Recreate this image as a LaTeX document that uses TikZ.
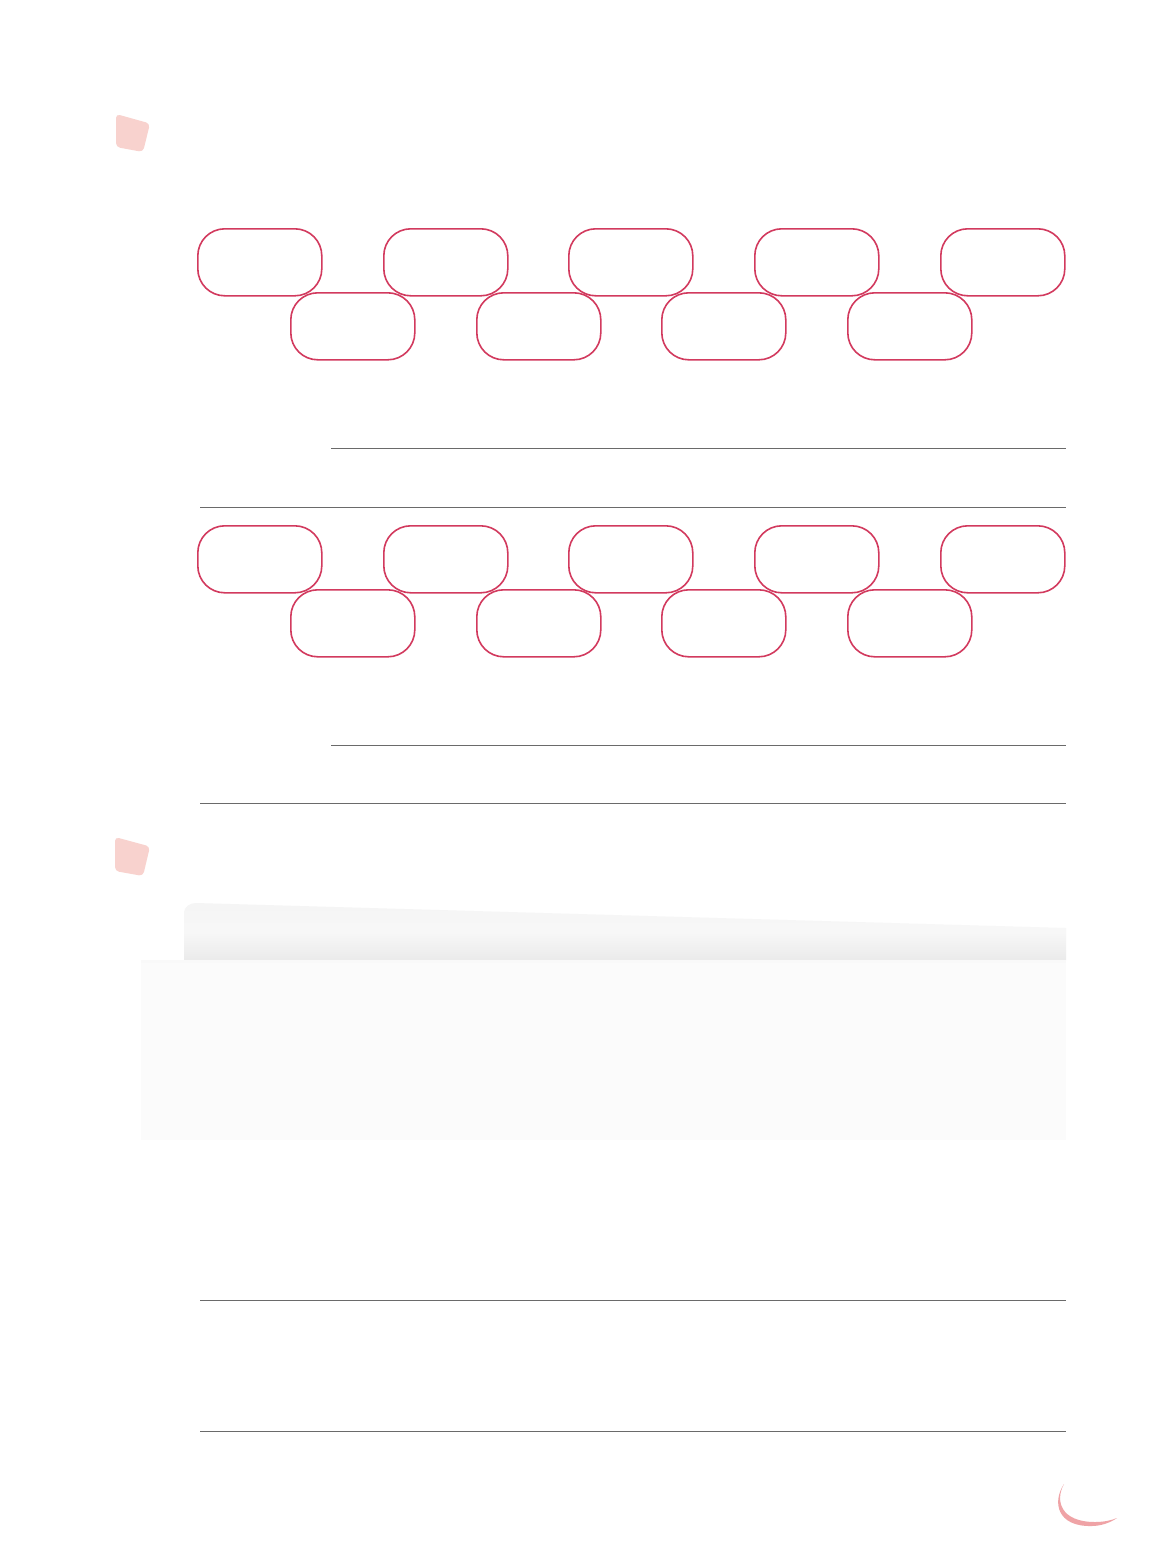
\documentclass[tikz,border=0pt]{standalone}
\usetikzlibrary{positioning}
\definecolor{boxred}{HTML}{D23A5E}
\definecolor{rulegray}{HTML}{6A6A6A}
\definecolor{markpink}{HTML}{F8D2CE}
\definecolor{arcpink}{HTML}{EFA3A6}
\tikzset{
  pill/.style={draw=boxred, line width=1.6pt, rounded corners=27pt, minimum width=124pt, minimum height=67pt, anchor=north west, inner sep=0pt},
  hrule/.style={draw=rulegray, line width=1pt},
  marker/.style={fill=markpink, draw=none, rounded corners=4pt}
}
\begin{document}
\begin{tikzpicture}[x=1pt,y=-1pt]
\useasboundingbox[fill=white] (0,0) rectangle (1168,1567);
% markers
\fill[marker] (116,114) -- (150,123.5) -- (143,152) -- (116,147) -- cycle;
\fill[marker] (115,837) -- (150,846.5) -- (143,876) -- (115,871) -- cycle;
% group 1
\foreach \i/\x in {1/197,2/383,3/568,4/754,5/940}{
  \node[pill] (a\i) at (\x,228) {};
}
\foreach \i/\x in {1/290,2/476,3/661,4/847}{
  \node[pill] (b\i) at (\x,292) {};
}
\draw[hrule] (331,448) -- (1066,448);
\draw[hrule] (200,507) -- (1066,507);
% group 2
\foreach \i/\x in {1/197,2/383,3/568,4/754,5/940}{
  \node[pill] (c\i) at (\x,525) {};
}
\foreach \i/\x in {1/290,2/476,3/661,4/847}{
  \node[pill] (d\i) at (\x,589) {};
}
\draw[hrule] (331,745) -- (1066,745);
\draw[hrule] (200,803) -- (1066,803);
% shaded panel
\shade[top color=white!96!black, bottom color=white!92!black, middle color=white!97!black]
  (184,960) -- (184,913) to[out=90,in=180] (196,903) -- (1066,928) -- (1066,960) -- cycle;
\fill[white!98.6!black] (141,960) rectangle (1066,1140);
\fill[white!97.5!black] (141,960) rectangle (1066,963);
% lower rules
\draw[hrule] (200,1300) -- (1066,1300);
\draw[hrule] (200,1431) -- (1066,1431);
% corner arc
\fill[arcpink] (1064,1484) .. controls (1055,1500) and (1060,1522) .. (1095,1522) .. controls (1105,1522) and (1112,1520) .. (1117,1518) .. controls (1110,1523) and (1100,1526) .. (1092,1526) .. controls (1057,1527) and (1052,1502) .. (1064,1484) -- cycle;
\end{tikzpicture}
\end{document}
